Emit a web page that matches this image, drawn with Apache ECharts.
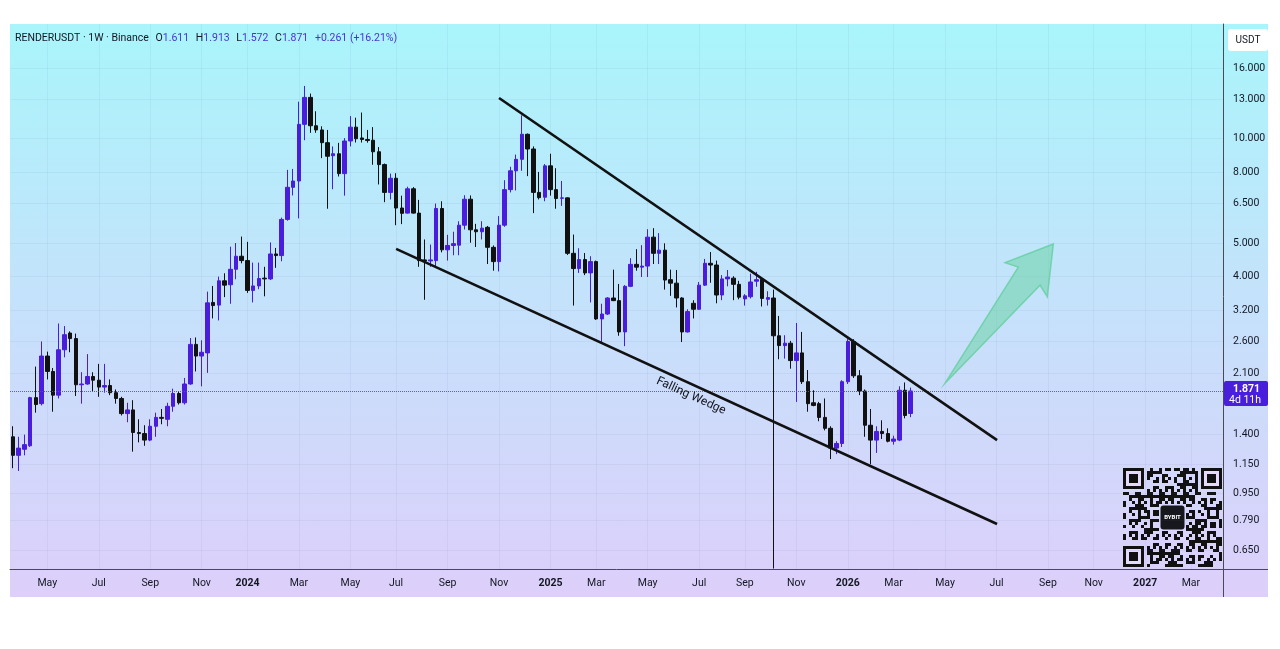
<!DOCTYPE html>
<html><head><meta charset="utf-8">
<script src="https://cdn.jsdelivr.net/npm/echarts@6/dist/echarts.min.js"></script>
<style>html,body{margin:0;padding:0;background:#fff;}#c{width:1280px;height:649px;}</style>
</head><body><div id="c"></div>
<script>
// ---------- data ----------
const symbolTitle = 'RENDERUSDT · 1W · Binance';
const firstWeek = '2023-03-20';
const opens = [
1.38,1.22,1.27,1.30,1.79,1.72,2.36,2.13,1.82,2.46,
2.75,2.65,1.95,1.96,2.06,2.01,1.92,1.94,1.85,1.78,
1.61,1.65,1.42,1.41,1.35,1.48,1.57,1.55,1.69,1.84,
1.73,1.96,2.55,2.36,2.41,3.37,3.31,3.89,3.79,4.20,
4.58,4.45,3.65,3.76,3.96,3.94,4.65,4.60,5.85,7.24,
7.55,11.00,13.16,10.90,10.60,9.74,8.93,9.05,7.93,9.85,
10.80,10.05,9.95,9.90,9.17,8.42,7.00,7.69,6.31,6.10,
7.17,6.10,4.47,4.44,4.45,6.29,4.78,4.92,4.93,5.63,
6.69,5.46,5.39,5.55,4.86,4.42,5.63,7.13,8.08,8.72,
10.30,9.34,7.00,6.78,8.35,7.13,6.73,6.75,4.67,4.22,
4.48,4.10,4.42,3.02,3.12,3.47,3.41,2.77,3.75,4.34,
4.26,4.29,5.20,4.67,4.77,3.92,3.83,3.47,2.77,3.35,
3.22,3.78,4.37,4.32,3.54,3.94,3.96,3.80,3.45,3.50,
3.88,3.93,3.44,3.47,2.70,2.53,2.57,2.29,2.41,1.99,
1.73,1.72,1.57,1.46,1.28,1.32,1.99,2.60,2.07,1.87,
1.49,1.35,1.43,1.41,1.34,1.35,1.88,1.611];
const closes = [
1.22,1.28,1.31,1.79,1.71,2.36,2.13,1.82,2.46,2.72,
2.65,1.95,1.96,2.06,2.01,1.92,1.94,1.85,1.78,1.61,
1.65,1.42,1.41,1.35,1.48,1.57,1.56,1.69,1.84,1.73,
1.96,2.55,2.36,2.42,3.36,3.30,3.89,3.78,4.20,4.58,
4.45,3.65,3.76,3.95,3.94,4.65,4.60,5.85,7.24,7.55,
11.00,13.16,10.90,10.60,9.74,8.90,9.05,7.93,9.85,10.80,
10.00,9.95,9.88,9.17,8.42,7.00,7.69,6.31,6.09,7.17,
6.10,4.45,4.44,4.47,6.29,4.78,4.92,4.98,5.63,6.69,
5.46,5.39,5.52,4.86,4.42,5.63,7.13,8.08,8.72,10.30,
9.34,7.00,6.76,8.35,7.13,6.72,6.75,4.67,4.22,4.48,
4.10,4.42,3.02,3.12,3.47,3.41,2.77,3.75,4.34,4.26,
4.29,5.20,4.67,4.77,3.91,3.83,3.47,2.77,3.17,3.22,
3.78,4.37,4.32,3.54,3.94,3.99,3.80,3.49,3.52,3.86,
3.92,3.46,3.48,2.70,2.53,2.57,2.29,2.41,1.99,1.72,
1.70,1.57,1.46,1.28,1.32,1.99,2.60,2.07,1.87,1.49,
1.35,1.43,1.41,1.34,1.36,1.88,1.59,1.871];
const lows = [
1.12,1.10,1.22,1.29,1.62,1.70,2.02,1.63,1.78,2.34,
2.42,1.81,1.72,1.95,1.87,1.80,1.85,1.82,1.72,1.59,
1.52,1.25,1.33,1.30,1.34,1.38,1.50,1.48,1.63,1.71,
1.71,1.95,2.13,1.93,2.11,3.03,2.99,3.49,3.34,3.93,
4.37,3.59,3.37,3.68,3.51,3.91,4.24,4.43,5.80,6.86,
5.89,9.90,10.40,10.40,8.79,6.28,7.15,7.78,6.85,9.50,
9.75,9.75,9.74,8.41,7.38,6.56,6.68,5.63,5.67,6.08,
6.08,4.27,3.43,4.27,4.27,4.70,4.45,4.61,4.61,5.47,
5.01,4.87,5.12,4.35,4.16,4.14,5.57,7.00,7.09,8.08,
7.80,6.10,6.68,6.60,6.85,6.28,6.40,4.62,3.30,4.10,
4.04,3.37,3.00,2.58,3.10,3.40,2.70,2.52,3.73,4.16,
3.99,3.99,4.35,4.35,3.67,3.52,3.26,2.59,2.76,3.03,
3.21,3.76,3.84,3.35,3.42,3.75,3.42,3.44,3.30,3.46,
3.74,3.28,3.30,0.575,2.31,2.32,2.17,1.74,1.96,1.63,
1.69,1.53,1.44,1.19,1.23,1.29,1.96,2.04,1.82,1.38,
1.15,1.24,1.36,1.33,1.31,1.34,1.56,1.572];
const highs = [
1.48,1.38,1.40,1.80,2.20,2.60,2.43,2.18,2.93,2.88,
2.78,2.74,2.12,2.39,2.12,2.24,2.24,2.02,1.89,1.80,
1.73,1.76,1.55,1.49,1.55,1.62,1.66,1.73,1.90,1.87,
2.04,2.66,2.67,2.62,3.62,3.76,4.00,4.09,4.88,5.00,
5.22,5.04,4.39,4.39,4.27,5.02,4.84,5.92,8.13,8.18,
12.79,14.20,13.50,12.00,10.86,10.60,9.50,9.73,10.04,11.62,
11.50,11.90,10.60,10.80,9.46,8.48,7.93,7.95,6.85,7.27,
7.25,6.66,5.12,4.95,6.50,6.60,5.28,5.39,5.78,6.87,
6.86,5.68,5.78,5.60,4.92,5.98,7.59,8.30,9.00,11.68,
10.35,9.50,8.02,8.45,9.05,8.22,7.55,6.77,5.29,4.83,
4.68,4.58,4.45,3.34,3.49,4.19,3.81,3.78,4.52,4.80,
4.93,5.48,5.52,5.34,4.99,4.19,4.18,3.49,3.22,3.42,
3.86,4.50,4.71,4.45,4.04,4.18,4.01,3.89,3.56,4.08,
4.13,3.99,3.63,3.67,3.08,2.71,2.61,2.94,2.77,2.15,
1.88,1.74,1.78,1.48,1.34,2.01,2.64,2.64,2.15,1.89,
1.66,1.48,1.54,1.46,1.39,1.93,1.98,1.913];
const lastOHLC = {o:'1.611', h:'1.913', l:'1.572', c:'1.871', chg:'+0.261 (+16.21%)'};
const lastPrice = 1.871;
const countdown = '4d 11h';
const priceTicks = [16,13,10,8,6.5,5,4,3.2,2.6,2.1,1.4,1.15,0.95,0.79,0.65];
const xTickDates = ['2023-05-01','2023-07-03','2023-09-04','2023-11-06','2024-01-01','2024-03-04',
  '2024-05-06','2024-07-01','2024-09-02','2024-11-04','2025-01-06','2025-03-03','2025-05-05',
  '2025-07-07','2025-09-01','2025-11-03','2026-01-05','2026-03-02','2026-05-04','2026-07-06',
  '2026-09-07','2026-11-02','2027-01-04','2027-03-01'];
const xTickLabels = ['May','Jul','Sep','Nov','2024','Mar','May','Jul','Sep','Nov','2025','Mar','May',
  'Jul','Sep','Nov','2026','Mar','May','Jul','Sep','Nov','2027','Mar'];
const upperWedgeDates = ['2024-11-04T00:00','2026-07-06T17:00'];
const upperWedgePrices = [13.11, 1.35];
const lowerWedgeDates = ['2024-07-01T00:00','2026-07-06T17:00'];
const lowerWedgePrices = [4.81, 0.773];
const wedgeLabelDate = '2025-06-27T00:00';
const wedgeLabelPrice = 1.81;
const wedgeLabelText = 'Falling Wedge';
const arrowDates = ['2026-05-04T00:00','2026-08-01T17:00','2026-07-16T10:00','2026-09-13T14:00','2026-09-06T05:00','2026-08-28T07:00'];
const arrowPrices = [1.97, 4.26, 4.39, 4.97, 3.50, 3.78];

// ---------- helpers ----------
const DAY = 86400000;
const ts = s => Date.parse(s.length === 10 ? s + 'T00:00:00Z' : s + ':00Z');
const t0 = ts(firstWeek);
const candles = opens.map((o, i) => [t0 + i * 7 * DAY, o, closes[i], lows[i], highs[i]]);
const xTicks = xTickDates.map(ts);
const xLabelMap = {};
xTicks.forEach((t, i) => { xLabelMap[t] = xTickLabels[i]; });

const FONT = 'Roboto, "Liberation Sans", sans-serif';
const TXT = '#131722';
const UP = '#4a1cdc';
const DOWN = '#111111';
const GRIDC = 'rgba(80,100,150,0.07)';

// QR-like watermark (decorative)
function qrGraphic() {
  const n = 33, m = 3, ox = 1123, oy = 468;
  const kids = [];
  const finder = (r0, c0) => {
    kids.push({type:'rect', shape:{x:ox+c0*m, y:oy+r0*m, width:7*m, height:7*m}, style:{fill:'#111'}});
    kids.push({type:'rect', shape:{x:ox+(c0+1)*m, y:oy+(r0+1)*m, width:5*m, height:5*m}, style:{fill:'#e4dafc'}});
    kids.push({type:'rect', shape:{x:ox+(c0+2)*m, y:oy+(r0+2)*m, width:3*m, height:3*m}, style:{fill:'#111'}});
  };
  const inFinder = (r, c) => (r < 8 && c < 8) || (r < 8 && c >= n - 8) || (r >= n - 8 && c < 8);
  for (let r = 0; r < n; r++) for (let c = 0; c < n; c++) {
    if (inFinder(r, c)) continue;
    if (r >= 12 && r <= 20 && c >= 12 && c <= 20) continue;
    const h = (Math.imul(r * 131 + c * 7919 + r * c * 31 + 17, 2654435761) >>> 13) & 7;
    if (h < 4) kids.push({type:'rect', shape:{x:ox+c*m, y:oy+r*m, width:m, height:m}, style:{fill:'#111'}});
  }
  finder(0, 0); finder(0, n - 7); finder(n - 7, 0);
  const cx = ox + n * m / 2, cy = oy + n * m / 2;
  kids.push({type:'rect', shape:{x:cx-12, y:cy-12, width:24, height:24, r:3}, style:{fill:'#17181d'}});
  kids.push({type:'text', style:{x:cx, y:cy, text:'BYBIT', fill:'#fff', font:'bold 6px ' + FONT, align:'center', verticalAlign:'middle'}});
  return {type:'group', silent:true, z:5, children:kids};
}

const chart = echarts.init(document.getElementById('c'), null, {renderer:'canvas'});
const option = {
  animation: false,
  backgroundColor: '#ffffff',
  textStyle: {fontFamily: FONT},
  grid: {left: 10, top: 24, right: 57, bottom: 80, containLabel: false},
  xAxis: {
    type: 'value',
    min: t0 - 3.67 * DAY,
    max: t0 + 1481.3 * DAY,
    axisLine: {show: true, lineStyle: {color: '#4a4a55', width: 1}},
    axisTick: {show: false, customValues: xTicks},
    axisLabel: {
      customValues: xTicks, margin: 9, color: TXT, fontSize: 10.5,
      formatter: function (v) {
        const key = typeof v === 'object' ? v.value : v;
        const lab = xLabelMap[key] || '';
        return /^\d{4}$/.test(lab) ? '{y|' + lab + '}' : lab;
      },
      rich: {y: {fontWeight: 'bold', color: TXT, fontSize: 10.5, fontFamily: FONT}}
    },
    splitLine: {show: true, lineStyle: {color: GRIDC, width: 1}}
  },
  yAxis: {
    type: 'log', logBase: 10, position: 'right',
    min: 0.5733, max: 21.43,
    axisLine: {show: true, lineStyle: {color: '#4a4a55', width: 1}},
    axisTick: {show: false, customValues: priceTicks},
    axisLabel: {customValues: priceTicks, margin: 10, color: TXT, fontSize: 10.5,
      formatter: v => Number(v).toFixed(3)},
    splitLine: {show: true, lineStyle: {color: GRIDC, width: 1}}
  },
  graphic: [
    {type:'rect', z:-100, silent:true, shape:{x:10, y:24, width:1258, height:573},
     style:{fill: new echarts.graphic.LinearGradient(0,0,0,1,[
       {offset:0, color:'#a9f5fb'}, {offset:0.45, color:'#c3e3fb'}, {offset:1, color:'#ddcffa'}])}},
    {type:'line', silent:true, z:3, shape:{x1:1223, y1:569.5, x2:1268, y2:569.5}, style:{stroke:'#4a4a55', lineWidth:1}},
    {type:'line', silent:true, z:3, shape:{x1:1223.5, y1:569, x2:1223.5, y2:597}, style:{stroke:'#4a4a55', lineWidth:1}},
    {type:'rect', silent:true, z:4, shape:{x:1228, y:29, width:40, height:22, r:3}, style:{fill:'#ffffff'}},
    {type:'text', silent:true, z:5, style:{x:1248, y:40, text:'USDT', fill:TXT, font:'10px ' + FONT, align:'center', verticalAlign:'middle'}},
    {type:'text', silent:true, z:5, style:{x:15, y:38, verticalAlign:'middle',
      text: '{n|' + symbolTitle + '}  {n|O}{v|' + lastOHLC.o + '}  {n|H}{v|' + lastOHLC.h + '}  {n|L}{v|' + lastOHLC.l + '}  {n|C}{v|' + lastOHLC.c + '}  {v|' + lastOHLC.chg + '}',
      rich: {n:{fill:TXT, font:'10.5px ' + FONT}, v:{fill:'#4a33d6', font:'10.5px ' + FONT}}}},
    qrGraphic()
  ],
  series: [
    {
      type: 'candlestick', name: 'RENDERUSDT',
      data: candles, encode: {x: 0, y: [1, 2, 3, 4]},
      barWidth: 4, clip: true, z: 3,
      itemStyle: {color: UP, color0: DOWN, borderColor: UP, borderColor0: DOWN, borderWidth: 1},
      markLine: {
        silent: true, symbol: ['none', 'none'], label: {show: false},
        lineStyle: {type: 'dotted', color: '#5a48d8', width: 1, opacity: 0.9},
        data: [{yAxis: lastPrice}]
      }
    },
    {
      type: 'line', name: 'upper', z: 6, symbol: 'none', silent: true,
      data: upperWedgeDates.map((d, i) => [ts(d), upperWedgePrices[i]]),
      lineStyle: {color: '#111', width: 2.6}
    },
    {
      type: 'line', name: 'lower', z: 6, symbol: 'none', silent: true,
      data: lowerWedgeDates.map((d, i) => [ts(d), lowerWedgePrices[i]]),
      lineStyle: {color: '#111', width: 2.6}
    },
    {
      type: 'custom', name: 'wedgeLabel', z: 7, silent: true,
      data: [[ts(wedgeLabelDate), wedgeLabelPrice]],
      renderItem: function (params, api) {
        const p = api.coord([api.value(0), api.value(1)]);
        const a = api.coord([ts(lowerWedgeDates[0]), lowerWedgePrices[0]]);
        const b = api.coord([ts(lowerWedgeDates[1]), lowerWedgePrices[1]]);
        const ang = Math.atan2(b[1] - a[1], b[0] - a[0]);
        return {type: 'text', x: p[0], y: p[1], rotation: -ang,
          style: {text: wedgeLabelText, fill: '#111118', font: '12px ' + FONT, align: 'center', verticalAlign: 'middle'}};
      }
    },
    {
      type: 'custom', name: 'arrow', z: 4, silent: true,
      data: [[ts(arrowDates[0]), arrowPrices[0]]],
      renderItem: function (params, api) {
        const pts = arrowDates.map((d, i) => api.coord([ts(d), arrowPrices[i]]));
        return {type: 'polygon', shape: {points: pts},
          style: {fill: 'rgba(105,212,165,0.55)', stroke: 'rgba(95,205,155,0.75)', lineWidth: 1.5}};
      }
    },
    {
      type: 'custom', name: 'priceTag', z: 8, silent: true, clip: false,
      data: [[candles[candles.length - 1][0], lastPrice]],
      renderItem: function (params, api) {
        const p = api.coord([api.value(0), api.value(1)]);
        const cs = params.coordSys;
        const x0 = cs.x + cs.width + 1;
        return {type: 'group', children: [
          {type: 'rect', shape: {x: x0, y: p[1] - 10, width: 44, height: 25, r: 2}, style: {fill: '#4a1fdc'}},
          {type: 'text', style: {x: x0 + 9, y: p[1] - 2, text: lastPrice.toFixed(3), fill: '#fff', font: 'bold 10.5px ' + FONT, verticalAlign: 'middle'}},
          {type: 'text', style: {x: x0 + 5, y: p[1] + 9, text: countdown, fill: '#fff', font: '10.5px ' + FONT, verticalAlign: 'middle'}}
        ]};
      }
    }
  ]
};
chart.setOption(option);
</script>
</body></html>
